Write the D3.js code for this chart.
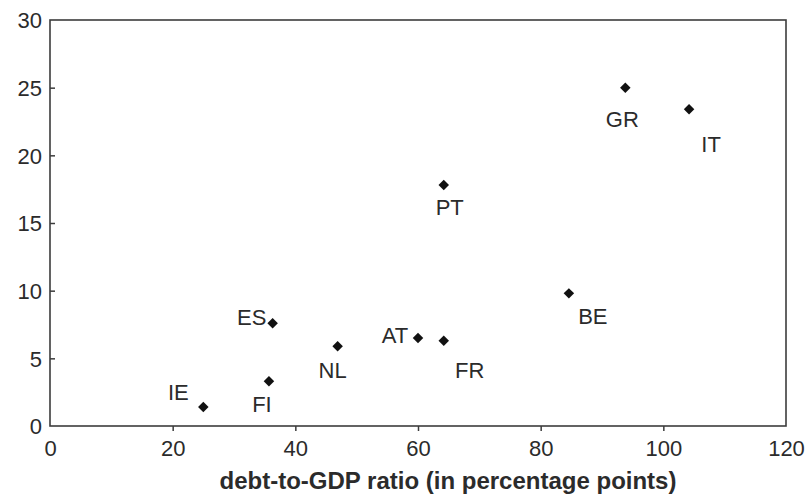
<!DOCTYPE html>
<html>
<head>
<meta charset="utf-8">
<script src="https://cdn.jsdelivr.net/npm/d3@7"></script>
<style>
  body { margin: 0; background: #fff; }
  text { font-family: "Liberation Sans", Arial, sans-serif; fill: #2b2b2b; }
</style>
</head>
<body>
<svg id="chart"></svg>
<script>
// country codes and values
const countries = ["IE", "FI", "ES", "NL", "AT", "FR", "PT", "BE", "GR", "IT"];
const debtRatio = [25.0, 35.7, 36.3, 46.9, 60.0, 64.2, 64.2, 84.6, 93.8, 104.2];
const yValue    = [1.4, 3.3, 7.6, 5.9, 6.5, 6.3, 17.8, 9.8, 25.0, 23.4];
const xTicks = [0, 20, 40, 60, 80, 100, 120];
const yTicks = [0, 5, 10, 15, 20, 25, 30];
// label offsets from each point (px), text centred
const labelDx = [-25, -7, -21, -5, -23, 26, 6, 24, -3, 22];
const labelDy = [-7, 31, 2, 32, 5, 37, 30, 31, 39, 43];

const W = 811, H = 497;
const margin = { top: 20, right: 25, bottom: 71, left: 50 },
    width = W - margin.left - margin.right,
    height = H - margin.top - margin.bottom;

const svg = d3.select("#chart")
    .attr("width", W)
    .attr("height", H)
    .append("g")
    .attr("transform", `translate(${margin.left},${margin.top})`);

const data = countries.map((c, i) => ({ name: c, x: debtRatio[i], y: yValue[i], dx: labelDx[i], dy: labelDy[i] }));

const x = d3.scaleLinear().domain([0, 120]).range([0, width]);
const y = d3.scaleLinear().domain([0, 30]).range([height, 0]);

const axisColor = "#3c3c3c";

// bottom axis, ticks pointing outward
const gx = svg.append("g")
    .attr("transform", `translate(0,${height})`)
    .call(d3.axisBottom(x).tickValues(xTicks).tickSize(5).tickPadding(9).tickSizeOuter(0));

// left axis, ticks pointing inward
const gy = svg.append("g")
    .call(d3.axisLeft(y).tickValues(yTicks).tickSize(-5).tickPadding(8).tickSizeOuter(0));

[gx, gy].forEach(g => {
    g.select(".domain").remove();
    g.selectAll("line").attr("stroke", axisColor).attr("stroke-width", 1.5);
    g.selectAll("text")
        .style("font-family", "'Liberation Sans', Arial, sans-serif")
        .style("font-size", "22px")
        .attr("fill", "#2b2b2b");
});
gy.selectAll(".tick text").attr("dy", "0.35em");
gx.selectAll(".tick").filter(d => d === 0 || d === 120).select("line").remove();
gy.selectAll(".tick").filter(d => d === 0 || d === 30).select("line").remove();

// frame around the plot
svg.append("rect")
    .attr("x", 0).attr("y", 0)
    .attr("width", width).attr("height", height)
    .attr("fill", "none")
    .attr("stroke", axisColor)
    .attr("stroke-width", 1.6);

// diamonds
const diamond = d3.symbol().type(d3.symbolSquare).size(55);
svg.selectAll(".pt")
    .data(data)
    .enter().append("path")
    .attr("class", "pt")
    .attr("d", diamond)
    .attr("transform", d => `translate(${x(d.x)},${y(d.y)}) rotate(45)`)
    .attr("fill", "#111");

svg.selectAll(".lbl")
    .data(data)
    .enter().append("text")
    .attr("class", "lbl")
    .attr("x", d => x(d.x) + d.dx)
    .attr("y", d => y(d.y) + d.dy)
    .attr("text-anchor", "middle")
    .style("font-size", "22px")
    .text(d => d.name);

svg.append("text")
    .attr("x", 448 - margin.left)
    .attr("y", 489 - margin.top)
    .attr("text-anchor", "middle")
    .style("font-size", "24px")
    .style("font-weight", "bold")
    .text("debt-to-GDP ratio (in percentage points)");
</script>
</body>
</html>
